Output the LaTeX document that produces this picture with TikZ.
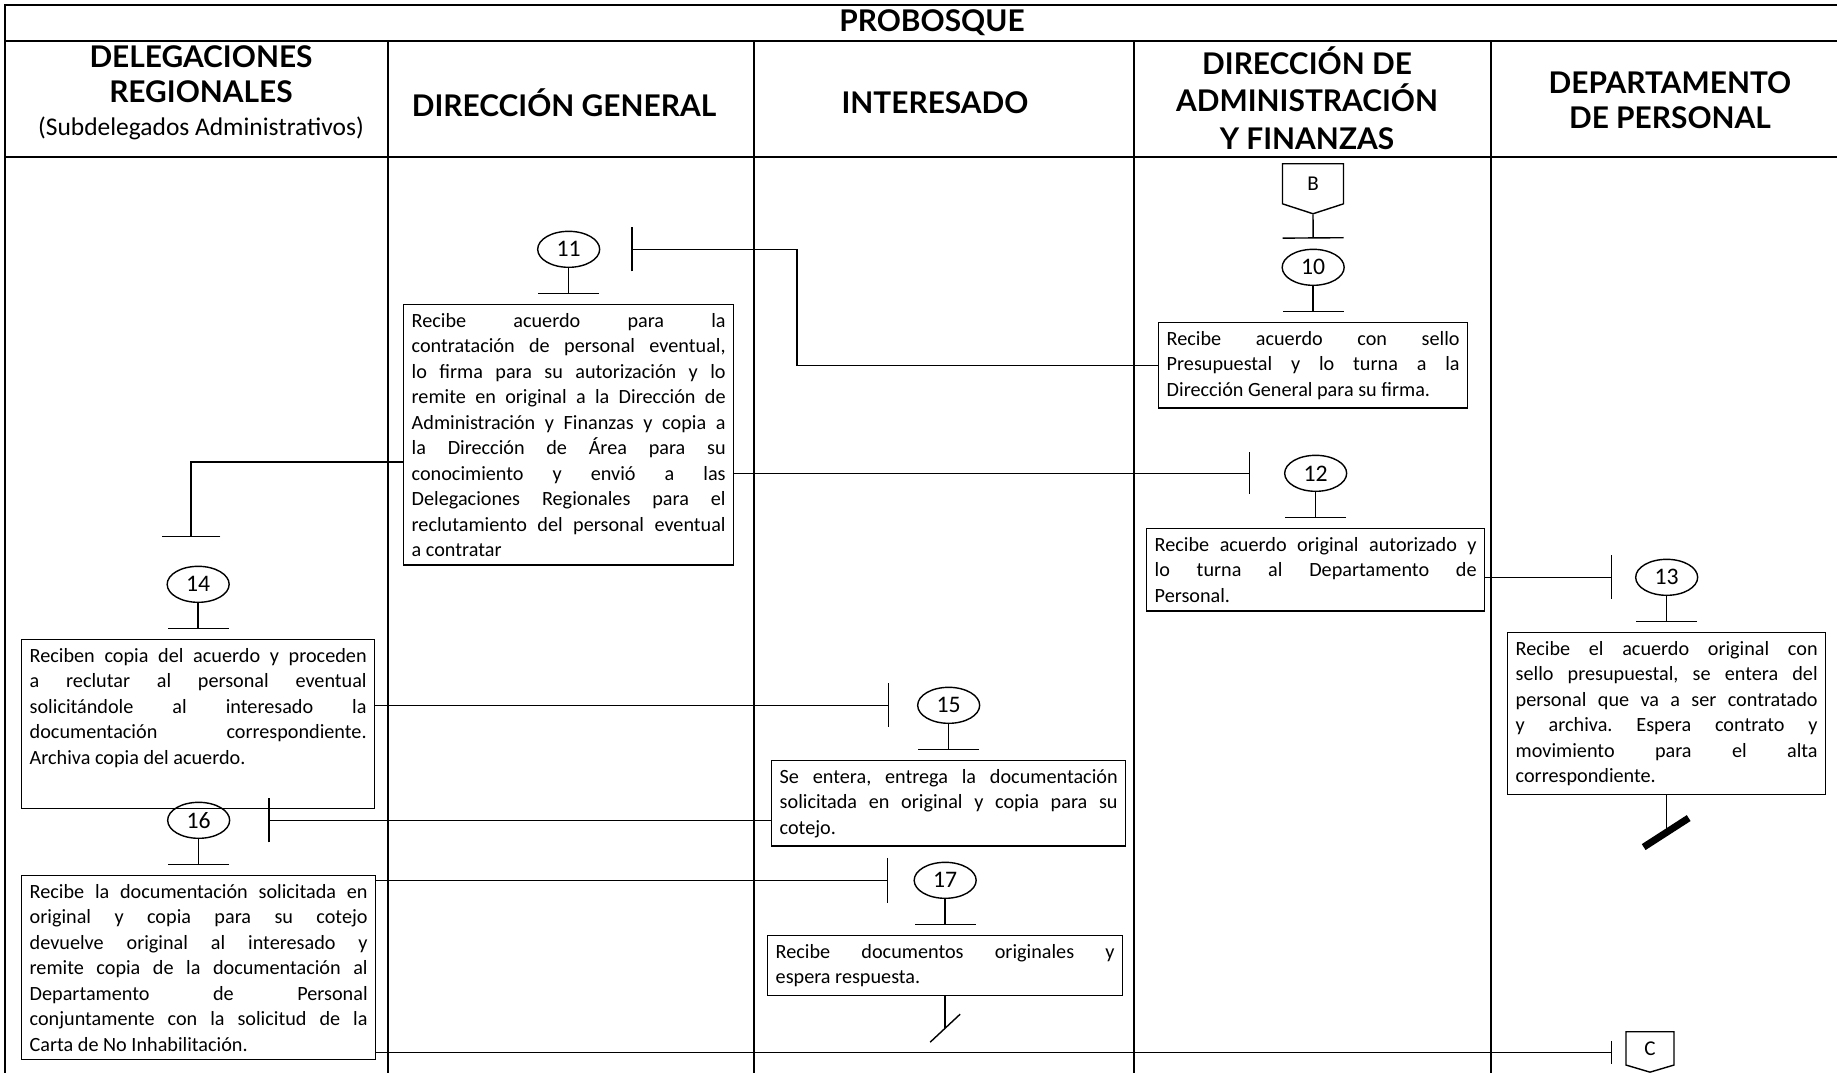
\documentclass[tikz,border=0pt]{standalone}
\usepackage{fontspec}
\setmainfont{Carlito}
\newfontfamily\headfont{Lato}
\usetikzlibrary{arrows.meta,positioning,shapes.geometric,shapes.symbols}
\tolerance=10000
\hbadness=10000
\frenchspacing
\tikzset{
  lane/.style={font=\headfont\bfseries\fontsize{17}{20}\selectfont,align=center},
  lanerule/.style={line width=1.2pt},
  stepbox/.style={draw,line width=0.8pt,anchor=north west,inner xsep=0.16cm,inner ysep=0.17cm,
    align=justify,text width=#1,font=\fontsize{11.5}{14.5}\selectfont},
  num/.style={ellipse,draw,line width=0.8pt,minimum width=1.24cm,minimum height=0.72cm,
    inner sep=0pt,font=\fontsize{13.5}{14}\selectfont},
  stem/.style={line width=0.8pt,-{Bar[width=1.22cm]}},
  flow/.style={line width=0.8pt,-{Bar[width=#1]}},
  flow/.default=0.88cm,
  offpage/.style={draw,line width=0.8pt,signal,signal to=south,signal pointer angle=#1,
    inner sep=0pt,font=\fontsize{12}{14}\selectfont},
}

\begin{document}
\begin{tikzpicture}[x=0.02cm,y=-0.02cm,node distance=0.72cm]
  \useasboundingbox (0,0) rectangle (1837,1073);
  % frame and lanes
  \draw[lanerule] (1837,5) -- (5,5) -- (5,1073);
  \draw[lanerule] (5,41) -- (1837,41) (5,157) -- (1837,157);
  \foreach \x in {388,754,1134,1491} \draw[lanerule] (\x,41) -- (\x,1073);
  \node[lane] (title) at (932,23) {PROBOSQUE};
  \node[lane] (h1) at (201,74) {DELEGACIONES\\REGIONALES};
  \node[font=\fontsize{14.5}{16}\selectfont] (h1sub) at (201,128) {(Subdelegados Administrativos)};
  \node[lane] (h2) at (564,103) {DIRECCIÓN GENERAL};
  \node[lane] (h3) at (935,103) {INTERESADO};
  \node[lane] (h4) at (1307,98) {DIRECCIÓN DE\\[1.5pt]ADMINISTRACIÓN\\[1.5pt]Y FINANZAS};
  \node[lane] (h5) at (1670,100) {DEPARTAMENTO\\DE PERSONAL};

  % activities
  \node[stepbox=5.86cm] (b10) at (1158,322) {Recibe acuerdo con sello\linebreak
    Presupuestal y lo turna a la\linebreak Dirección General para su firma.};
  \node[stepbox=6.28cm] (b11) at (403,304) {Recibe acuerdo para la\linebreak
    contratación de personal eventual,\linebreak lo firma para su autorización y lo\linebreak
    remite en original a la Dirección de\linebreak Administración y Finanzas y copia a\linebreak
    la Dirección de Área para su\linebreak conocimiento y envió a las\linebreak
    Delegaciones Regionales para el\linebreak reclutamiento del personal eventual\linebreak
    a contratar};
  \node[stepbox=6.44cm] (b12) at (1146,528) {Recibe acuerdo original autorizado y\linebreak
    lo turna al Departamento de\linebreak Personal.};
  \node[stepbox=6.04cm] (b13) at (1507,632) {Recibe el acuerdo original con\linebreak
    sello presupuestal, se entera del\linebreak personal que va a ser contratado\linebreak
    y archiva. Espera contrato y\linebreak movimiento para el alta\linebreak correspondiente.};
  \node[stepbox=6.74cm] (b14) at (21,639) {Reciben copia del acuerdo y proceden\linebreak
    a reclutar al personal eventual\linebreak solicitándole al interesado la\linebreak
    documentación correspondiente.\linebreak Archiva copia del acuerdo.\par\rule{0pt}{0.62cm}};
  \node[stepbox=6.76cm] (b15) at (771,760) {Se entera, entrega la documentación\linebreak
    solicitada en original y copia para su\linebreak cotejo.};
  \node[stepbox=6.76cm] (b16) at (21,875) {Recibe la documentación solicitada en\linebreak
    original y copia para su cotejo\linebreak devuelve original al interesado y\linebreak
    remite copia de la documentación al\linebreak Departamento de Personal\linebreak
    conjuntamente con la solicitud de la\linebreak Carta de No Inhabilitación.};
  \node[stepbox=6.78cm] (b17) at (767,935) {Recibe documentos originales y\linebreak
    espera respuesta.};

  % step numbers
  \foreach \n in {10,...,17} {
    \node[num,above=of b\n] (e\n) {\n};
    \draw[stem] (e\n) -- ([yshift=0.2cm]b\n.north);
  }

  % connectors
  \node[offpage=144,minimum width=1.22cm,minimum height=0.84cm,anchor=north] (cB) at (1313,163) {B};
  \draw[stem] (cB.south) -- ([yshift=0.2cm]e10.north);
  \draw[flow] (b10.west) -- ++(-361,0) |- ([xshift=0.62cm]e11.east);
  \coordinate (t14) at (191,537);
  \draw[flow=1.18cm] (b11.west |- 0,462) -| (t14);
  \draw[flow=0.84cm] (b11.east |- e12) -- ([xshift=-0.68cm]e12.west);
  \draw[flow] (b12.east |- e13) -- ([xshift=-0.46cm]e13.west);
  \draw[flow] (b14.east |- e15) -- ([xshift=-0.56cm]e15.west);
  \draw[flow] (b15.west |- e16) -- ([xshift=0.76cm]e16.east);
  \draw[flow=0.9cm] (b16.east |- e17) -- ([xshift=-0.5cm]e17.west);
  \node[offpage=147,minimum width=0.96cm,minimum height=0.7cm,anchor=north] (cC) at (1650,1031) {C};
  \coordinate[below left=0.08cm and 0.26cm of cC.west] (tC);
  \draw[flow=0.46cm] (b16.east |- tC) -- (tC);

  % ends
  \draw[line width=0.8pt] (b13.south) -- ++(0,37) coordinate (x13);
  \draw[line width=4pt] ([shift={(-23,15)}]x13) -- ([shift={(22,-14)}]x13);
  \draw[line width=0.8pt] (b17.south) -- ++(0,32) coordinate (x17);
  \draw[line width=0.8pt] ([shift={(-15,14)}]x17) -- ([shift={(15,-14)}]x17);
\end{tikzpicture}
\end{document}
